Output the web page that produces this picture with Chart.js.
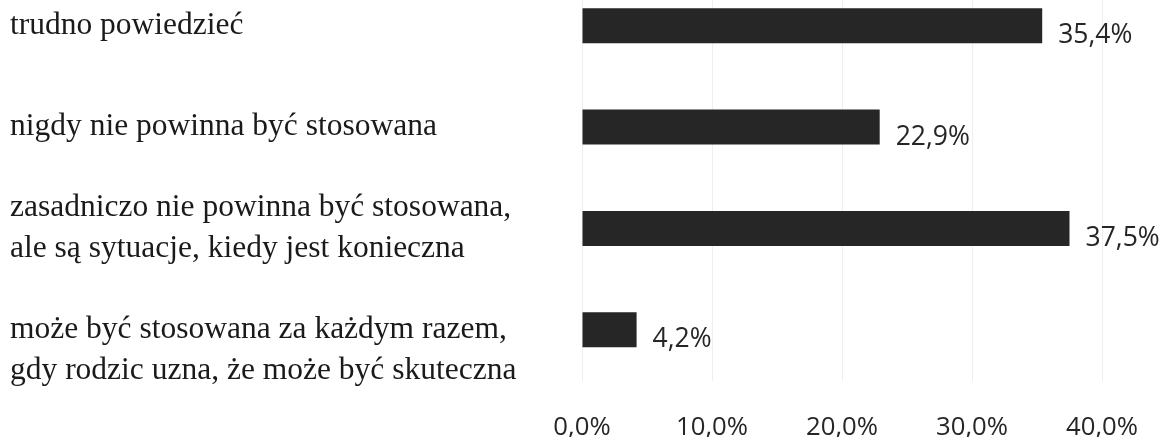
<!DOCTYPE html>
<html lang="pl">
<head>
<meta charset="utf-8">
<title>Kara fizyczna – odpowiedzi</title>
<script src="https://cdn.jsdelivr.net/npm/chart.js@4.4.1/dist/chart.umd.min.js"></script>
<style>
  html, body { margin: 0; padding: 0; background: #fff; }
  #frame { position: relative; width: 1163px; height: 437px; overflow: hidden; }
  /* the reference is cropped at the top, so the canvas is shifted up */
  #wrap { position: absolute; left: 0; top: -25px; width: 1163px; height: 468px; }
</style>
</head>
<body>
<div id="frame"><div id="wrap"><canvas id="chart"></canvas></div></div>
<script>
"use strict";

const categories = [
  ["nie mam zdania,", "trudno powiedzieć", ""],
  "nigdy nie powinna być stosowana",
  ["zasadniczo nie powinna być stosowana,", "ale są sytuacje, kiedy jest konieczna"],
  ["", "może być stosowana za każdym razem,", "gdy rodzic uzna, że może być skuteczna"],
];
const values = [35.4, 22.9, 37.5, 4.2];
const tickValues = [0, 10, 20, 30, 40];

const fmtPct = v => v.toFixed(1).replace(".", ",") + "%";

// value labels to the right of each bar
const valueLabels = {
  id: "valueLabels",
  afterDatasetsDraw(chart) {
    const { ctx } = chart;
    ctx.save();
    ctx.font = "26.5px 'Open Sans'";
    ctx.fillStyle = "#262626";
    ctx.textAlign = "left";
    ctx.textBaseline = "alphabetic";
    chart.getDatasetMeta(0).data.forEach((bar, i) => {
      ctx.fillText(fmtPct(values[i]), bar.x + 16, bar.y + 17.5);
    });
    ctx.restore();
  },
};

new Chart(document.getElementById("chart"), {
  type: "bar",
  data: {
    labels: categories,
    datasets: [{
      data: values,
      backgroundColor: "#262626",
      barPercentage: 0.345,
      categoryPercentage: 1,
    }],
  },
  options: {
    indexAxis: "y",
    responsive: true,
    maintainAspectRatio: false,
    animation: false,
    layout: { padding: { left: 10, right: 61, top: 0, bottom: 0 } },
    plugins: { legend: { display: false }, tooltip: { enabled: false } },
    scales: {
      x: {
        min: 0,
        max: 40,
        afterBuildTicks: s => { s.ticks = tickValues.map(v => ({ value: v })); },
        ticks: {
          padding: 31.3,
          color: "#262626",
          font: { family: "'Open Sans'", size: 25.7 },
          callback: v => fmtPct(v),
        },
        grid: { color: "#eeeeee", drawTicks: false },
        border: { display: false },
        afterFit: s => { s.height = 62.5; s.paddingLeft = 0; s.paddingRight = 0; },
      },
      y: {
        ticks: {
          autoSkip: false,
          crossAlign: "far",
          padding: 0,
          color: "#1a1a1a",
          font: { family: "'Liberation Serif'", size: 31.5, lineHeight: 1.3 },
        },
        grid: { display: false },
        border: { display: false },
        afterFit: s => { s.width = 572; s.paddingTop = 0; s.paddingBottom = 0; },
      },
    },
  },
  plugins: [valueLabels],
});
</script>
</body>
</html>
